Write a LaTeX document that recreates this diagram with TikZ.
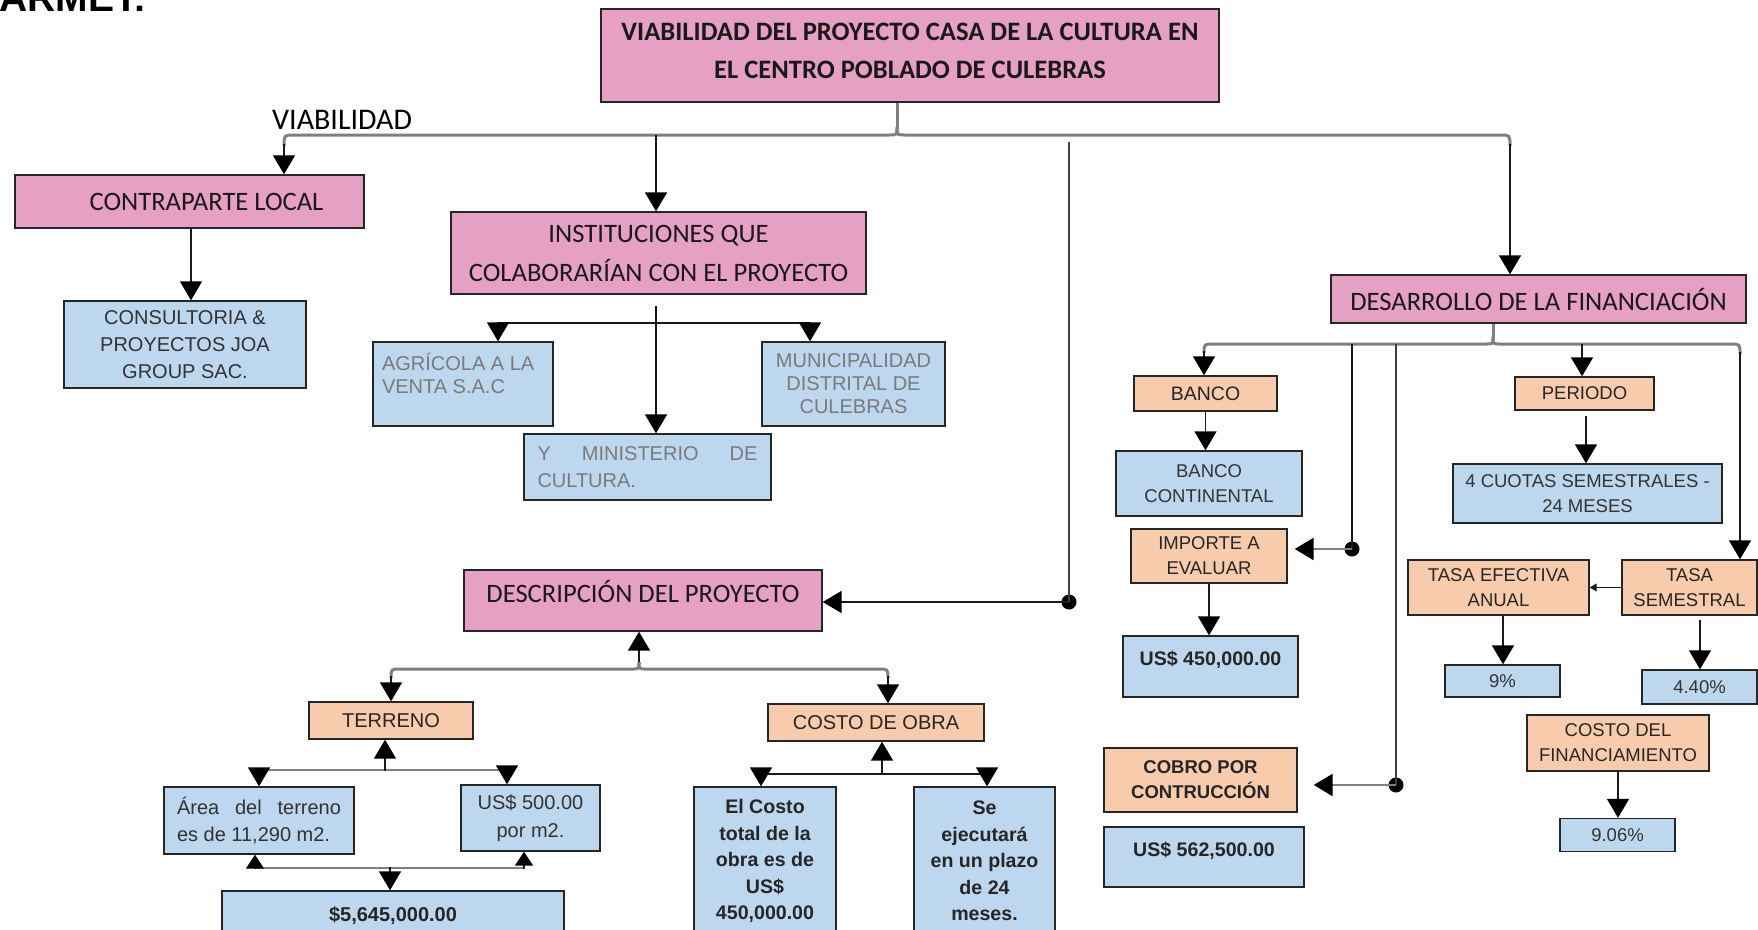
\documentclass[tikz,border=0pt]{standalone}
\usepackage{fontspec}
\setmainfont{Carlito}
\newfontfamily\arialf{Liberation Sans}
\usetikzlibrary{arrows.meta,calc}

\definecolor{pinkc}{HTML}{E6A0C4}
\definecolor{peachc}{HTML}{F8CBAD}
\definecolor{bluec}{HTML}{BDD7EE}
\definecolor{linec}{HTML}{7F7F7F}
\definecolor{txtgray}{HTML}{7A7A7A}

\begin{document}
\begin{tikzpicture}[x=1pt,y=-1pt,
  wh/.style 2 args={minimum width=#1pt, minimum height=#2pt},
  box/.style={draw=black!85, line width=1.4pt, inner sep=0pt, align=center},
  pinkbox/.style={box, fill=pinkc, text=black!90, font=\fontsize{26.6}{39}\selectfont},
  peachbox/.style={box, fill=peachc, text=black!85, font=\arialf\fontsize{18.5}{25}\selectfont},
  bluebox/.style={box, fill=bluec, text=black!80, font=\arialf\fontsize{18.5}{25}\selectfont},
  lf/.style={font=\arialf\fontsize{20}{#1}\selectfont},
  lfb/.style={font=\arialf\bfseries\fontsize{20}{#1}\selectfont},
  graytext/.style={text=txtgray},
  brk/.style={draw=linec, line width=3pt},
  shaft/.style={draw=black!90, line width=1.6pt},
  arr/.style={shaft, -{Triangle[width=22pt,length=19pt,color=black]}},
  uarr/.style={shaft, -{Triangle[width=18pt,length=14pt,color=black]}},
  sarr/.style={shaft, line width=1.2pt, -{Triangle[width=8pt,length=7pt]}},
  dot/.style={circle, fill=black, inner sep=0pt, minimum size=15pt},
]
\useasboundingbox (0,0) rectangle (1758,929);

% heading fragment at the top edge
\node[font=\arialf\bfseries\fontsize{39}{40}\selectfont, anchor=base east, inner sep=0pt] (armet) at (147,11) {ARMET:};

% ---------- boxes ----------
\node[pinkbox, wh={618}{93}, text height=50pt, text depth=5pt, font=\bfseries\fontsize{26.6}{38}\selectfont] (title) at (910,55.5)
  {VIABILIDAD DEL PROYECTO CASA DE LA CULTURA EN\\EL CENTRO POBLADO DE CULEBRAS};
\node[font=\fontsize{30}{32}\selectfont, anchor=base west, inner sep=0pt] (vlab) at (272,129) {VIABILIDAD};

\node[pinkbox, wh={349}{53}] (contra) at (189.5,201.5) {\hspace*{34pt}CONTRAPARTE LOCAL};
\node[bluebox, lf=27, wh={242}{87}] (consul) at (185,344.5)
  {CONSULTORIA \&\\PROYECTOS JOA\\GROUP SAC.};

\node[pinkbox, wh={415}{82}] (instit) at (658.5,253) {INSTITUCIONES QUE\\COLABORARÍAN CON EL PROYECTO};
\node[bluebox, graytext, lf=23.5, wh={180}{84}] (agri) at (463,384)
  {\parbox[c][62pt][t]{162pt}{\raggedright AGRÍCOLA A LA\\VENTA S.A.C}};
\node[bluebox, graytext, lf=23, wh={183}{84}] (muni) at (853.5,384)
  {MUNICIPALIDAD\\DISTRITAL DE\\CULEBRAS};
\node[bluebox, graytext, lf=27, wh={247}{66}] (minis) at (647.5,467)
  {\parbox{220pt}{Y\hfill MINISTERIO\hfill DE\\CULTURA.}};

\node[pinkbox, wh={358}{61}, text height=14pt, text depth=11pt] (descr) at (643,600.5) {DESCRIPCIÓN DEL PROYECTO};
\node[peachbox, lf=25, wh={164}{37}] (terreno) at (391,720.5) {TERRENO};
\node[peachbox, lf=25, wh={216}{37}] (costobra) at (876,722.5) {COSTO DE OBRA};
\node[bluebox, lf=27, wh={190}{67}] (area) at (259,820.5)
  {\parbox{164pt}{Área\hfill del\hfill terreno\\es de 11,290 m2.}};
\node[bluebox, lf=28, wh={139}{66}] (usd500) at (530.5,818)
  {US\$ 500.00\\por m2.};
\node[bluebox, text=black!85, lfb=25, wh={342}{49}] (total) at (393,915.5)
  {\$5,645,000.00};
\node[bluebox, text=black!85, wh={142}{148}, font=\arialf\bfseries\fontsize{19.6}{26.5}\selectfont] (elcosto) at (765,861)
  {El Costo\\total de la\\obra es de\\US\$\\450,000.00};
\node[bluebox, text=black!85, wh={141}{148}, font=\arialf\bfseries\fontsize{19.6}{26.5}\selectfont] (seejec) at (984.5,861)
  {Se\\ejecutará\\en un plazo\\de 24\\meses.};

\node[pinkbox, wh={415}{48}] (desarr) at (1538.5,299) {DESARROLLO DE LA FINANCIACIÓN};
\node[peachbox, wh={143}{35}, font=\arialf\fontsize{19.5}{25}\selectfont] (banco) at (1205.5,393.5) {BANCO};
\node[bluebox, wh={186}{65}] (bancocont) at (1209,483.5) {BANCO\\CONTINENTAL};
\node[peachbox, wh={156}{54}] (importe) at (1209,556) {IMPORTE A\\EVALUAR};
\node[bluebox, text=black!85, wh={175}{61}, font=\arialf\bfseries\fontsize{19.6}{25}\selectfont] (usd450) at (1210.5,666.5)
  {\parbox[c][32pt][t]{175pt}{\centering US\$ 450,000.00}};
\node[peachbox, wh={193}{64}, font=\arialf\bfseries\fontsize{18.5}{25}\selectfont] (cobro) at (1200.5,780)
  {COBRO POR\\CONTRUCCIÓN};
\node[bluebox, text=black!85, wh={200}{60}, font=\arialf\bfseries\fontsize{19.6}{25}\selectfont] (usd562) at (1204,857)
  {\parbox[c][30pt][t]{200pt}{\centering US\$ 562,500.00}};

\node[peachbox, wh={139}{33}] (periodo) at (1584.5,393.5) {PERIODO};
\node[bluebox, wh={269}{59}] (cuotas) at (1587.5,493.5) {4 CUOTAS SEMESTRALES -\\24 MESES};
\node[peachbox, wh={181}{55}] (tasaef) at (1498.5,587.5) {TASA EFECTIVA\\ANUAL};
\node[peachbox, wh={135}{55}] (tasasem) at (1689.5,587.5) {TASA\\SEMESTRAL};
\node[bluebox, wh={115}{32}] (nueve) at (1502.5,681) {9\%};
\node[bluebox, wh={115}{34}] (cuatro) at (1699.5,687) {4.40\%};
\node[peachbox, wh={182}{56}] (costofin) at (1618,743) {COSTO DEL\\FINANCIAMIENTO};
\node[bluebox, wh={115}{33}] (nuevecero) at (1617.5,835) {9.06\%};

% ---------- connectors from the title ----------
\coordinate (tj) at (897,127);
\draw[brk] (title.south -| tj) -- (tj);
\draw[brk] (tj) .. controls (897,135) .. (889,135) -- (294,135) .. controls (284,135) .. (284,146);
\draw[brk] (tj) .. controls (897,135) .. (905,135) -- (1500,135) .. controls (1510,135) .. (1510,146);
\draw[arr] (284,144) -- (284,0 |- contra.north);
\draw[arr] (656,135) -- (656,0 |- instit.north);
\draw[arr] (1510,144) -- (1510,0 |- desarr.north);

\draw[arr] (191,0 |- contra.south) -- (191,0 |- consul.north);

% institutions
\draw[shaft] (498,323) -- (810,323);
\draw[arr] (498,322) -- (498,0 |- agri.north);
\draw[arr] (810,322) -- (810,0 |- muni.north);
\draw[arr] (656,306) -- (656,0 |- minis.north);

% project description
\node[dot] (d1) at (1069,602) {};
\draw[shaft, draw=black!75] (1069,142) -- (d1.center);
\draw[arr] (d1.center) -- (descr.east |- d1);

\coordinate (dj) at (639,662);
\draw[brk] (dj) .. controls (639,669) .. (632,669) -- (401,669) .. controls (391,669) .. (391,678);
\draw[brk] (dj) .. controls (639,669) .. (646,669) -- (878,669) .. controls (888,669) .. (888,678);
\draw[arr] (dj) -- (639,0 |- descr.south);
\draw[arr] (391,676) -- (terreno.north);
\draw[arr] (888,676) -- (888,0 |- costobra.north);

% land
\draw[brk, line width=2.5pt] (259,770) -- (507,770);
\draw[arr] (385,771) -- (385,0 |- terreno.south);
\draw[arr] (259,769) -- (259,0 |- area.north);
\draw[arr] (507,769) -- (507,0 |- usd500.north);
\draw[brk, line width=2.5pt] (255,868) -- (524,868);
\draw[uarr] (255,869) -- (255,0 |- area.south);
\draw[uarr] (524,869) -- (524,0 |- usd500.south);
\draw[arr] (390,867) -- (390,0 |- total.north);

% construction cost
\draw[shaft] (761,774) -- (987,774);
\draw[arr] (882,775) -- (882,0 |- costobra.south);
\draw[arr] (761,773) -- (761,0 |- elcosto.north);
\draw[arr] (987,773) -- (987,0 |- seejec.north);

% financing
\coordinate (fj) at (1493,337);
\draw[brk] (desarr.south -| fj) -- (fj);
\draw[brk] (fj) .. controls (1493,344) .. (1486,344) -- (1214,344) .. controls (1204,344) .. (1204,353);
\draw[brk] (fj) .. controls (1493,344) .. (1500,344) -- (1730,344) .. controls (1740,344) .. (1740,354);
\draw[arr] (1204,351) -- (1204,0 |- banco.north);
\draw[arr] (1582,344) -- (1582,0 |- periodo.north);
\draw[arr] (1740,352) -- (1740,0 |- tasasem.north);

\node[dot] (d2) at (1352,549) {};
\draw[shaft] (1352,344) -- (d2.center);
\draw[arr, draw=linec, line width=2.5pt, shorten >=7pt] (d2.center) -- (importe.east |- d2);
\node[dot] (d3) at (1396,785) {};
\draw[shaft, draw=black!75] (1396,344) -- (d3.center);
\draw[arr, draw=linec, line width=2.5pt, shorten >=16pt] (d3.center) -- (cobro.east |- d3);

\draw[arr] (banco.south) -- (banco.south |- bancocont.north);
\draw[arr] (importe.south) -- (importe.south |- usd450.north);
\draw[arr] (1586,416) -- (1586,0 |- cuotas.north);
\draw[sarr] (tasasem.west) -- (tasaef.east);
\draw[arr] (1503,0 |- tasaef.south) -- (1503,0 |- nueve.north);
\draw[arr] (1700,620) -- (1700,0 |- cuatro.north);
\draw[arr] (costofin.south) -- (costofin.south |- nuevecero.north);
\end{tikzpicture}
\end{document}
